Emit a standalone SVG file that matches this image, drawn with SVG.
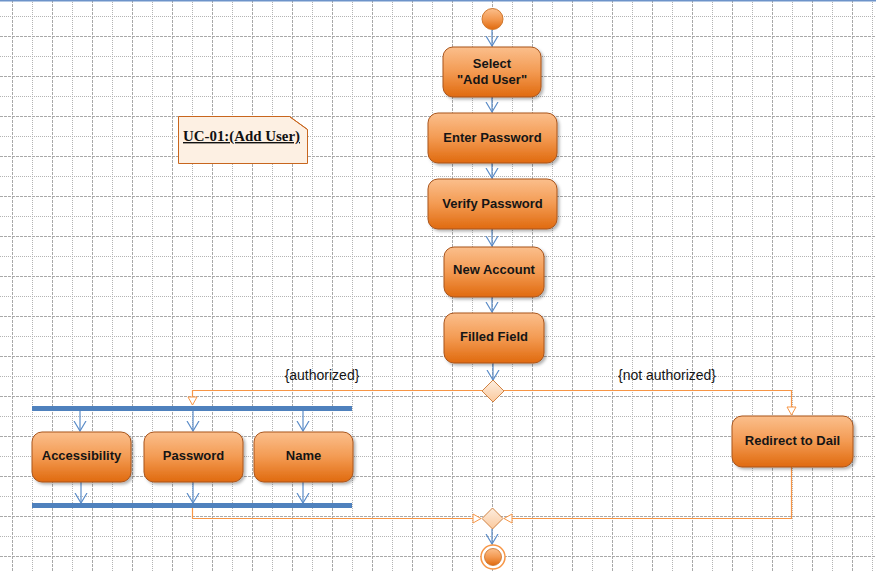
<svg xmlns="http://www.w3.org/2000/svg" width="876" height="572" viewBox="0 0 876 572">
<defs>
<pattern id="grid" patternUnits="userSpaceOnUse" x="12" y="36" width="40" height="40">
<line x1="0.5" y1="0" x2="0.5" y2="40" stroke="#a9a9a9" stroke-width="1" stroke-dasharray="3 1"/>
<line x1="20.5" y1="0" x2="20.5" y2="40" stroke="#b4b4b4" stroke-width="1" stroke-dasharray="1 1"/>
<line x1="0" y1="0.5" x2="40" y2="0.5" stroke="#a9a9a9" stroke-width="1" stroke-dasharray="3 1"/>
<line x1="0" y1="20.5" x2="40" y2="20.5" stroke="#b4b4b4" stroke-width="1" stroke-dasharray="1 1"/>
</pattern>
<linearGradient id="nodeGrad" x1="0" y1="0" x2="0" y2="1">
<stop offset="0" stop-color="#fbbf8c"/>
<stop offset="0.5" stop-color="#f39a52"/>
<stop offset="1" stop-color="#e06a0e"/>
</linearGradient>
<linearGradient id="diaGrad" x1="0" y1="0" x2="0" y2="1">
<stop offset="0" stop-color="#fdeee0"/>
<stop offset="1" stop-color="#fbc99d"/>
</linearGradient>
<filter id="shadow" x="-10%" y="-10%" width="125%" height="130%">
<feDropShadow dx="2" dy="2" stdDeviation="1.5" flood-color="#000" flood-opacity="0.3"/>
</filter>
<marker id="vArrow" markerUnits="userSpaceOnUse" viewBox="0 -7 11 14" refX="10" refY="0" markerWidth="11" markerHeight="14" orient="auto">
<path d="M0,-6 L10,0 L0,6" fill="none" stroke="#5b8cc8" stroke-width="1.2"/>
</marker>
<marker id="hollow" markerUnits="userSpaceOnUse" viewBox="-1 -6 10 12" refX="8" refY="0" markerWidth="10" markerHeight="12" orient="auto">
<path d="M0,-4.5 L8,0 L0,4.5 Z" fill="#ffffff" stroke="#f79646" stroke-width="1"/>
</marker>
<style>
.node rect { fill: url(#nodeGrad); stroke: #a9551c; stroke-width: 1; filter: url(#shadow); }
.node text { font-family: "Liberation Sans", Arial, sans-serif; font-weight: bold; font-size: 13px; fill: #151515; text-anchor: middle; }
.flow { fill: none; stroke: #5b8cc8; stroke-width: 1.2; marker-end: url(#vArrow); }
.guard { fill: none; stroke: #f79646; stroke-width: 1.2; marker-end: url(#hollow); }
.bar { fill: #4f81bd; }
.dia { fill: url(#diaGrad); stroke: #cf8243; stroke-width: 1; }
.lbl { font-family: "Liberation Sans", Arial, sans-serif; font-size: 14px; fill: #151515; text-anchor: middle; }
</style>
</defs>
<rect x="0" y="0" width="876" height="572" fill="#ffffff"/>
<rect x="0" y="0" width="876" height="572" fill="url(#grid)"/>
<line x1="0" y1="0.75" x2="876" y2="0.75" stroke="#6d93c9" stroke-width="1.5"/>

<g id="connectors">
<line class="flow" x1="492" y1="30" x2="492" y2="46"/>
<line class="flow" x1="492" y1="97" x2="492" y2="112"/>
<line class="flow" x1="492" y1="163" x2="492" y2="178"/>
<line class="flow" x1="492" y1="229" x2="492" y2="246"/>
<line class="flow" x1="492" y1="297" x2="492" y2="312"/>
<line class="flow" x1="493" y1="363" x2="493" y2="380"/>
<line class="flow" x1="80" y1="410" x2="80" y2="431"/>
<line class="flow" x1="193" y1="410" x2="193" y2="431"/>
<line class="flow" x1="303" y1="410" x2="303" y2="431"/>
<line class="flow" x1="81" y1="482" x2="81" y2="503"/>
<line class="flow" x1="193" y1="482" x2="193" y2="503"/>
<line class="flow" x1="303" y1="482" x2="303" y2="503"/>
<line class="flow" x1="492" y1="529" x2="492" y2="544"/>
<polyline class="guard" points="482,390.5 192.5,390.5 192.5,405"/>
<polyline class="guard" points="504,390.5 791.5,390.5 791.5,415"/>
<polyline class="guard" points="192.5,507 192.5,518.5 481,518.5"/>
<polyline class="guard" points="791.5,467 791.5,518.5 504,518.5"/>
</g>

<g id="start">
<circle cx="492.5" cy="19" r="10.5" fill="url(#nodeGrad)" stroke="#d0782e" stroke-width="1"/>
</g>

<g id="select-add-user" class="node">
<rect x="443" y="47" width="98" height="50" rx="10" ry="10"/>
<text x="492" y="68">Select</text>
<text x="492" y="83.5">"Add User"</text>
</g>

<g id="enter-password" class="node">
<rect x="428" y="113" width="129" height="50" rx="10" ry="10"/>
<text x="492.5" y="141.5">Enter Password</text>
</g>

<g id="verify-password" class="node">
<rect x="428" y="179" width="129" height="50" rx="10" ry="10"/>
<text x="492.5" y="207.5">Verify Password</text>
</g>

<g id="new-account" class="node">
<rect x="444" y="247" width="100" height="50" rx="10" ry="10"/>
<text x="494" y="274">New Account</text>
</g>

<g id="filled-field" class="node">
<rect x="444" y="313" width="100" height="50" rx="10" ry="10"/>
<text x="494" y="341">Filled Field</text>
</g>

<g id="decision">
<path class="dia" d="M493,380 L504,391 L493,402 L482,391 Z"/>
<text class="lbl" x="322" y="380">{authorized}</text>
<text class="lbl" x="667" y="380">{not authorized}</text>
</g>

<g id="fork">
<rect class="bar" x="32" y="406" width="320" height="5"/>
</g>

<g id="accessibility" class="node">
<rect x="32" y="432" width="99" height="50" rx="10" ry="10"/>
<text x="81.5" y="460">Accessibility</text>
</g>

<g id="password" class="node">
<rect x="144" y="432" width="99" height="50" rx="10" ry="10"/>
<text x="193.5" y="460">Password</text>
</g>

<g id="name" class="node">
<rect x="254" y="432" width="99" height="50" rx="10" ry="10"/>
<text x="303.5" y="460">Name</text>
</g>

<g id="join">
<rect class="bar" x="32" y="503" width="320" height="5"/>
</g>

<g id="redirect-to-dail" class="node">
<rect x="732" y="416" width="121" height="51" rx="10" ry="10"/>
<text x="792.5" y="445">Redirect to Dail</text>
</g>

<g id="merge">
<path class="dia" d="M492.5,508 L503,518.5 L492.5,529 L482,518.5 Z"/>
</g>

<g id="end">
<circle cx="493" cy="557" r="12" fill="#ffffff" stroke="#f79646" stroke-width="1.5"/>
<circle cx="493" cy="557" r="8.5" fill="url(#nodeGrad)" stroke="#c8702a" stroke-width="0.8"/>
</g>

<g id="note-uc01">
<path d="M178.5,116.5 L289.5,116.5 L307.5,129.5 L307.5,163.5 L178.5,163.5 Z" fill="#fdf0e3" stroke="#c8661e" stroke-width="1"/>
<path d="M289.5,116.5 L307.5,129.5" fill="none" stroke="#c8661e" stroke-width="1"/>
<text x="183" y="141" font-family="'Liberation Serif', 'DejaVu Serif', serif" font-weight="bold" font-size="14" fill="#111" text-decoration="underline" textLength="117" lengthAdjust="spacingAndGlyphs">UC-01:(Add User)</text>
</g>
</svg>
